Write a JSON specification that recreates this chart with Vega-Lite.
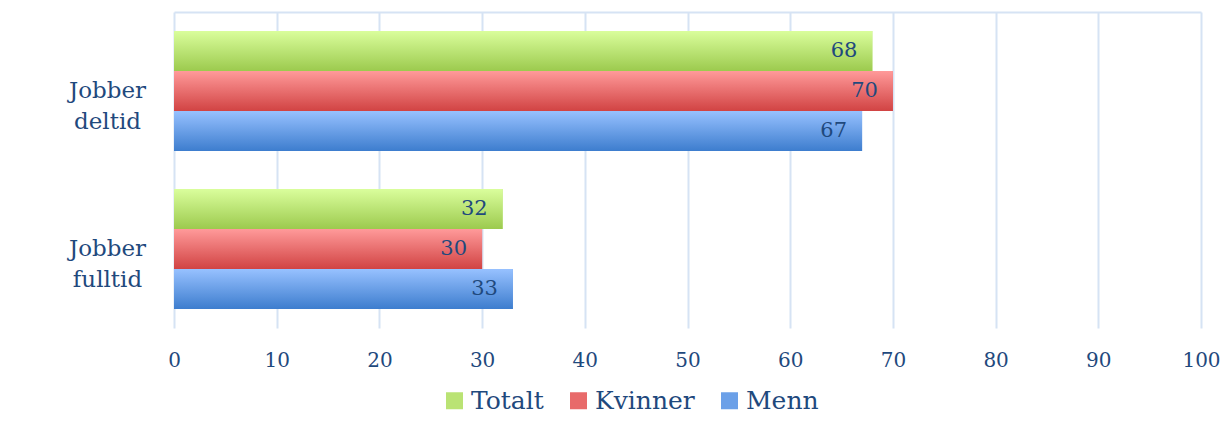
{
  "$schema": "https://vega.github.io/schema/vega-lite/v6.json",
  "width": 1027,
  "height": 316,
  "autosize": {"type": "none"},
  "padding": {"left": 174, "top": 12, "right": 24, "bottom": 107},
  "background": "white",
  "config": {"view": {"stroke": null}, "font": "DejaVu Serif"},
  "data": {
    "values": [
      {"kategori": "Jobber deltid", "kjonn": "Totalt", "verdi": 68},
      {"kategori": "Jobber deltid", "kjonn": "Kvinner", "verdi": 70},
      {"kategori": "Jobber deltid", "kjonn": "Menn", "verdi": 67},
      {"kategori": "Jobber fulltid", "kjonn": "Totalt", "verdi": 32},
      {"kategori": "Jobber fulltid", "kjonn": "Kvinner", "verdi": 30},
      {"kategori": "Jobber fulltid", "kjonn": "Menn", "verdi": 33}
    ]
  },
  "encoding": {
    "y": {
      "field": "kategori",
      "type": "nominal",
      "sort": ["Jobber deltid", "Jobber fulltid"],
      "scale": {"paddingInner": 0.24, "paddingOuter": 0.12},
      "axis": {
        "title": null,
        "domain": false,
        "ticks": false,
        "tickSize": 0,
        "labelExpr": "split(datum.label, ' ')",
        "labelAlign": "center",
        "labelBaseline": "middle",
        "labelPadding": 67,
        "labelFontSize": 23,
        "labelLineHeight": 31,
        "labelColor": "#1F497D",
        "labelFont": "DejaVu Serif"
      }
    },
    "yOffset": {
      "field": "kjonn",
      "type": "nominal",
      "sort": ["Totalt", "Kvinner", "Menn"],
      "scale": {"domain": ["Totalt", "Kvinner", "Menn"], "paddingInner": 0, "paddingOuter": 0}
    },
    "x": {
      "field": "verdi",
      "type": "quantitative",
      "scale": {"domain": [0, 100], "nice": false},
      "axis": null
    }
  },
  "layer": [
    {
      "mark": {"type": "bar"},
      "encoding": {
        "x": {
          "field": "verdi",
          "type": "quantitative",
          "scale": {"domain": [0, 100], "nice": false},
          "axis": {
            "orient": "bottom",
            "title": null,
            "domain": false,
            "ticks": false,
            "tickSize": 0,
            "grid": true,
            "gridColor": "#D6E3F4",
            "gridWidth": 2,
            "values": [0, 10, 20, 30, 40, 50, 60, 70, 80, 90, 100],
            "labelFlush": false,
            "labelFontSize": 20,
            "labelColor": "#1F497D",
            "labelFont": "DejaVu Serif",
            "labelPadding": 22
          }
        },
        "color": {
          "field": "kjonn",
          "type": "nominal",
          "sort": ["Totalt", "Kvinner", "Menn"],
          "scale": {"domain": ["Totalt", "Kvinner", "Menn"], "range": ["#BAE374", "#E86A6A", "#6BA0E8"]},
          "legend": {
            "title": null,
            "orient": "none",
            "direction": "horizontal",
            "legendX": 268,
            "legendY": 376,
            "padding": 0,
            "symbolType": "square",
            "symbolSize": 289,
            "symbolStrokeWidth": 0,
            "labelFontSize": 25,
            "labelFont": "DejaVu Serif",
            "labelColor": "#1F497D",
            "labelOffset": 4,
            "columnPadding": 22
          }
        }
      }
    },
    {
      "transform": [{"filter": "datum.kjonn === 'Totalt'"}],
      "mark": {
        "type": "bar",
        "fill": {"gradient": "linear", "x1": 0, "y1": 0, "x2": 0, "y2": 1,
          "stops": [{"offset": 0, "color": "#DAFE9C"}, {"offset": 1, "color": "#9CCA4E"}]}
      }
    },
    {
      "transform": [{"filter": "datum.kjonn === 'Kvinner'"}],
      "mark": {
        "type": "bar",
        "fill": {"gradient": "linear", "x1": 0, "y1": 0, "x2": 0, "y2": 1,
          "stops": [{"offset": 0, "color": "#FF9A9A"}, {"offset": 1, "color": "#D14343"}]}
      }
    },
    {
      "transform": [{"filter": "datum.kjonn === 'Menn'"}],
      "mark": {
        "type": "bar",
        "fill": {"gradient": "linear", "x1": 0, "y1": 0, "x2": 0, "y2": 1,
          "stops": [{"offset": 0, "color": "#97C1FF"}, {"offset": 1, "color": "#3D7DCE"}]}
      }
    },
    {
      "mark": {"type": "text", "align": "right", "baseline": "middle", "dx": -15, "font": "DejaVu Serif", "fontSize": 21, "color": "#1F497D"},
      "encoding": {"text": {"field": "verdi", "type": "quantitative"}}
    },
    {
      "mark": {"type": "rule", "opacity": 0},
      "encoding": {
        "y": null,
        "yOffset": null,
        "x": {
          "field": "verdi",
          "type": "quantitative",
          "scale": {"domain": [0, 100], "nice": false},
          "axis": {
            "orient": "top",
            "title": null,
            "domain": true,
            "domainColor": "#D6E3F4",
            "domainWidth": 2,
            "ticks": false,
            "labels": false,
            "grid": false
          }
        }
      }
    }
  ],
  "resolve": {"axis": {"x": "independent"}}
}
